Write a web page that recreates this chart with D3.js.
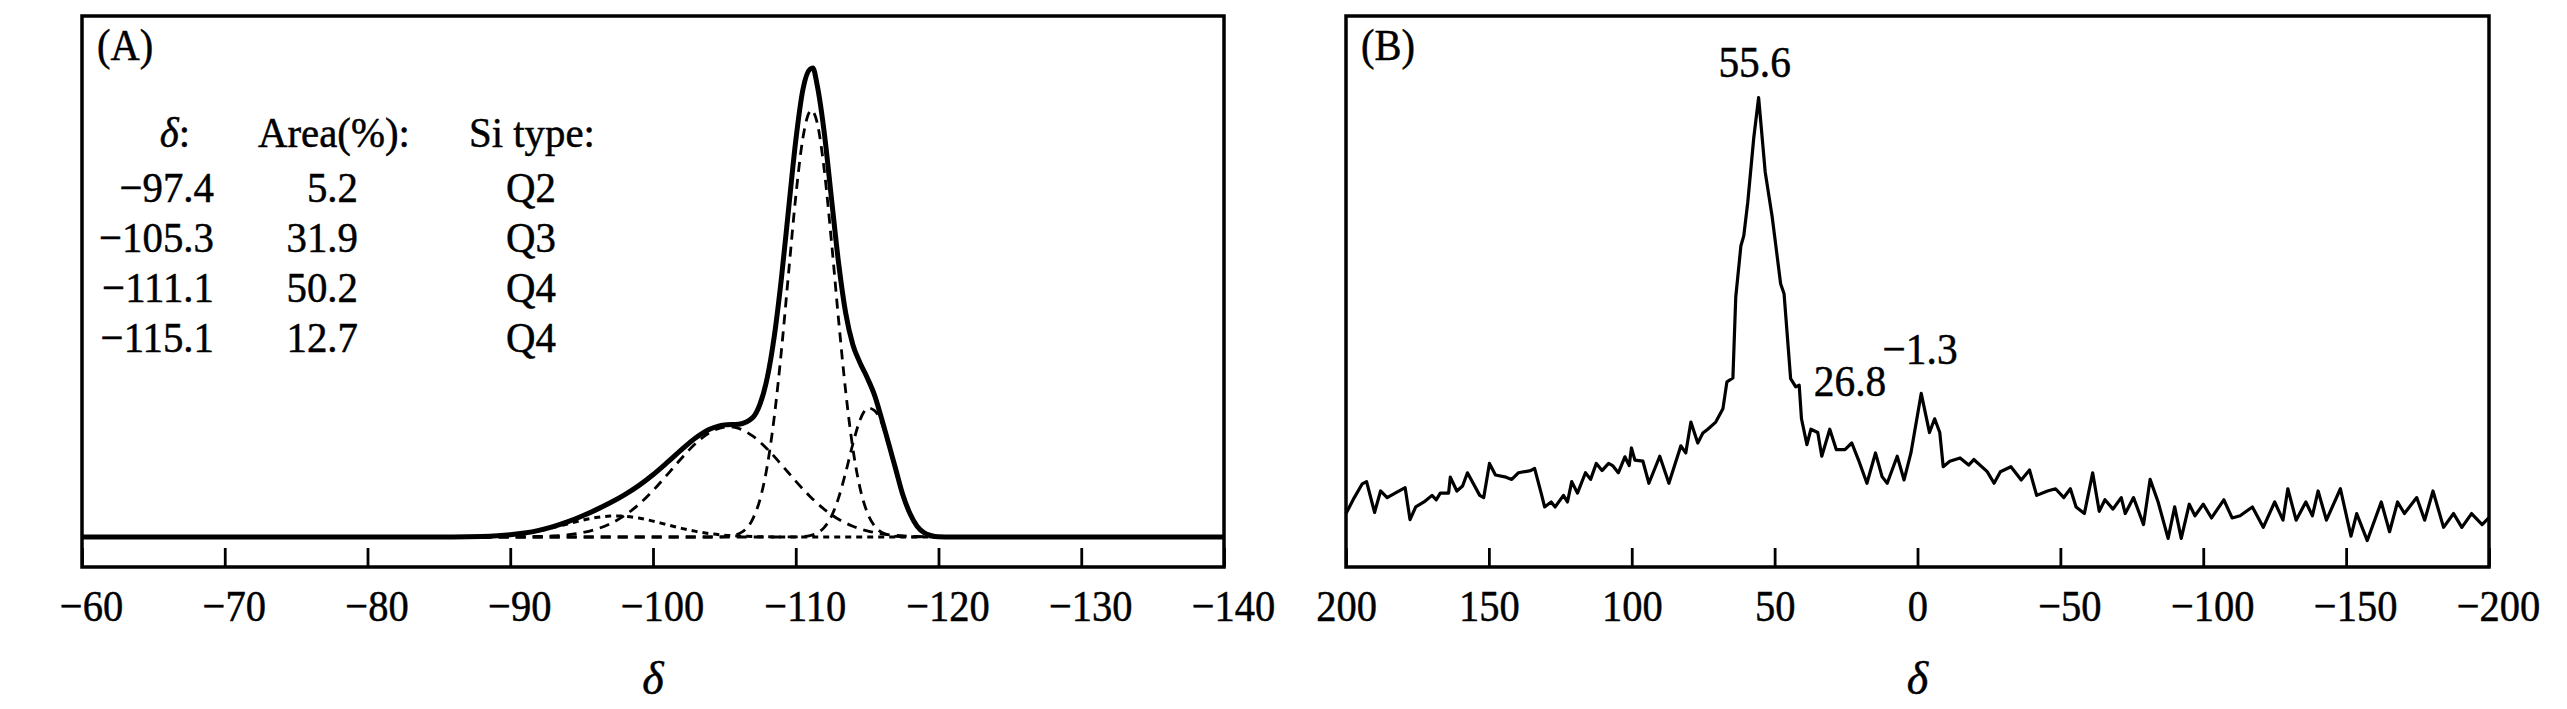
<!DOCTYPE html>
<html>
<head>
<meta charset="utf-8">
<script src="https://cdn.jsdelivr.net/npm/d3@7"></script>
<style>
  body { margin: 0; background: #fff; }
  text { font-family: 'Liberation Serif', 'Times New Roman', serif; fill: #000; stroke: #000; stroke-width: 0.5; }
</style>
</head>
<body>
<svg id="chart" width="2567" height="709"></svg>
<script>
// panel A: 29Si deconvolution, [delta, intensity]
var sumA = [[-60, 0], [-86, 0], [-88, 0.1], [-90, 0.47], [-91, 0.84], [-92, 1.41], [-93, 2.21], [-94, 3.22],
  [-95, 4.43], [-96, 5.78], [-97, 7.29], [-98, 8.99], [-99, 10.96], [-100, 13.28], [-101, 15.9], [-102, 18.64],
  [-103, 21.17], [-104, 23.03], [-105, 23.91], [-106, 24.05], [-107, 25.51], [-107.5, 28.37], [-108, 33.91],
  [-108.5, 42.9], [-109, 55.3], [-109.5, 70.0], [-110, 84.5], [-110.5, 95.4], [-111, 99.77], [-111.2, 100],
  [-111.5, 96.38], [-112, 86.13], [-112.5, 72.25], [-113, 58.46], [-113.5, 47.72], [-114, 41.0], [-114.5, 37.16],
  [-115, 34.0], [-115.5, 30.4], [-116, 25.4], [-116.5, 20.0], [-117, 14.5], [-117.5, 9], [-118, 5], [-118.5, 2.3],
  [-119, 0.9], [-119.5, 0.3], [-120, 0.05], [-121, 0], [-140, 0]];

var peakQ2 = [[-86, 0], [-88, 0.1], [-90, 0.45], [-91, 0.8], [-92, 1.31], [-93, 1.99], [-94, 2.76], [-95, 3.53],
  [-96, 4.14], [-97, 4.47], [-97.4, 4.5], [-98, 4.43], [-99, 4.04], [-100, 3.38], [-101, 2.6], [-102, 1.84],
  [-103, 1.2], [-104, 0.71], [-105, 0.39], [-106, 0.2], [-107, 0.09], [-108, 0.04], [-110, 0], [-121, 0]];

var peakQ3 = [[-88, 0], [-90, 0.02], [-91, 0.04], [-92, 0.1], [-93, 0.22], [-94, 0.46], [-95, 0.9], [-96, 1.64],
  [-97, 2.82], [-98, 4.56], [-99, 6.92], [-100, 9.9], [-101, 13.3], [-102, 16.8], [-103, 19.97], [-104, 22.31],
  [-105, 23.43], [-105.3, 23.5], [-106, 23.15], [-107, 21.5], [-108, 18.78], [-109, 15.42], [-110, 11.91],
  [-111, 8.65], [-112, 5.9], [-113, 3.79], [-114, 2.29], [-115, 1.3], [-116, 0.69], [-117, 0.35], [-118, 0.16],
  [-119, 0.07], [-120, 0.03], [-121, 0]];

var peakQ4a = [[-88, 0], [-104, 0], [-105, 0.09], [-106, 0.7], [-107, 3.92], [-107.5, 8.06], [-108, 15.09],
  [-108.5, 25.71], [-109, 39.87], [-109.5, 56.37], [-110, 72.56], [-110.5, 85.08], [-111, 90.83], [-111.1, 91],
  [-111.5, 88.35], [-112, 78.18], [-112.5, 63.07], [-113, 46.32], [-113.5, 30.99], [-114, 18.89], [-114.5, 10.48],
  [-115, 5.29], [-115.5, 2.43], [-116, 1.02], [-116.5, 0.39], [-117, 0.14], [-118, 0.01], [-121, 0]];

var peakQ4b = [[-88, 0], [-109, 0], [-110, 0.02], [-110.5, 0.09], [-111, 0.29], [-111.5, 0.83], [-112, 2.05],
  [-112.5, 4.42], [-113, 8.35], [-113.5, 13.77], [-114, 19.83], [-114.5, 24.95], [-115, 27.42], [-115.1, 27.5],
  [-115.5, 27.0], [-116, 24.5], [-116.5, 19.5], [-117, 14], [-117.5, 8.7], [-118, 4.8], [-118.5, 2.2], [-119, 0.8],
  [-119.5, 0.2], [-120, 0], [-121, 0]];

var tableHead = ['δ:', 'Area(%):', 'Si type:'];
var tableShift = ['−97.4', '−105.3', '−111.1', '−115.1'];
var tableArea = ['5.2', '31.9', '50.2', '12.7'];
var tableType = ['Q2', 'Q3', 'Q4', 'Q4'];
var ticksA = [-60, -70, -80, -90, -100, -110, -120, -130, -140];

// panel B: 27Al spectrum, [delta, intensity]
var spectrumB = [[200.0, 9.7], [197.1, 12.6], [194.3, 15.1], [192.8, 15.5], [190.0, 9.9], [187.9, 13.8],
  [185.6, 12.6], [182.8, 13.4], [179.3, 14.4], [177.6, 8.6], [175.6, 10.9], [172.7, 11.8], [169.9, 13.0],
  [168.4, 12.2], [167.0, 13.4], [164.1, 13.4], [163.5, 16.3], [161.2, 13.8], [159.2, 14.7], [157.5, 17.1],
  [153.2, 13.0], [151.8, 12.6], [149.8, 18.8], [147.7, 16.7], [144.0, 16.3], [142.0, 15.9], [139.7, 17.1],
  [135.4, 17.5], [134.0, 17.9], [131.7, 13.4], [130.5, 10.9], [128.2, 11.8], [126.8, 10.9], [123.9, 13.0],
  [122.5, 11.8], [121.0, 15.5], [119.0, 13.4], [116.2, 17.1], [114.4, 15.9], [112.4, 18.8], [110.4, 17.5],
  [108.1, 18.8], [106.7, 18.4], [104.7, 17.1], [102.4, 20.0], [100.9, 18.4], [100.1, 21.6], [98.9, 19.4],
  [96.1, 19.2], [94.0, 15.2], [90.2, 20.1], [87.0, 15.2], [82.8, 22.0], [81.1, 20.7], [79.3, 26.3], [76.9, 22.5],
  [75.1, 24.3], [73.4, 25.0], [70.6, 26.3], [68.1, 28.7], [66.7, 33.6], [64.6, 34.3], [63.6, 49.0], [61.8, 58.3],
  [60.8, 60.1], [59.4, 66.2], [57.3, 77.9], [55.6, 85.2], [53.3, 71.7], [50.9, 63.7], [49.4, 57.6], [47.9, 51.4],
  [46.7, 49.6], [44.4, 34.2], [42.6, 32.7], [41.4, 33.0], [40.6, 26.9], [38.7, 22.2], [37.3, 25.0], [34.9, 24.4],
  [33.5, 20.1], [30.7, 25.0], [28.4, 21.3], [25.4, 21.3], [23.0, 22.5], [20.7, 19.5], [17.7, 15.2], [14.7, 20.7],
  [12.4, 16.4], [10.6, 15.2], [7.1, 20.1], [4.7, 15.8], [2.3, 20.7], [-1.3, 31.5], [-4.2, 24.4], [-6.0, 26.9],
  [-7.8, 24.4], [-9.0, 18.2], [-11.3, 19.2], [-14.9, 19.8], [-17.9, 18.5], [-19.7, 19.5], [-24.4, 17.3],
  [-26.8, 15.2], [-29.0, 17.3], [-32.7, 18.2], [-36.3, 15.8], [-39.2, 17.6], [-41.7, 13.0], [-45.5, 13.8],
  [-48.3, 14.2], [-51.2, 12.6], [-53.5, 14.2], [-55.5, 10.9], [-58.4, 9.7], [-61.3, 17.1], [-63.6, 10.1],
  [-65.6, 12.2], [-68.4, 10.5], [-71.3, 12.6], [-72.7, 9.7], [-75.6, 12.6], [-79.1, 7.7], [-81.4, 15.9],
  [-84.2, 11.8], [-87.7, 5.2], [-90.0, 10.9], [-92.3, 5.2], [-95.1, 11.4], [-97.1, 9.3], [-100.0, 11.4],
  [-102.9, 8.9], [-107.2, 12.2], [-110.1, 8.9], [-112.9, 9.3], [-117.2, 10.9], [-121.0, 7.2], [-125.0, 11.8],
  [-127.9, 8.5], [-129.6, 14.2], [-132.5, 8.5], [-135.9, 11.8], [-138.2, 9.3], [-140.2, 13.8], [-143.1, 8.5],
  [-148.0, 14.2], [-151.7, 5.6], [-153.7, 9.7], [-157.4, 4.8], [-162.3, 11.8], [-165.2, 6.4], [-168.0, 11.8],
  [-170.4, 9.7], [-174.7, 12.6], [-177.5, 8.5], [-180.4, 13.8], [-184.1, 7.2], [-187.6, 9.7], [-190.5, 7.2],
  [-193.9, 9.7], [-197.6, 7.7], [-199.9, 8.9]];

var labelsB = [['55.6', 57.0, 88.9], ['26.8', 23.6, 31.0], ['−1.3', -0.9, 36.8]];
var ticksB = [200, 150, 100, 50, 0, -50, -100, -150, -200];

(function () {
  'use strict';

  var svg = d3.select('#chart');
  var top = 16, bottom = 567;
  var fontSize = 45;

  // text squeezed a little, the original face is narrow
  function label(parent, x, y, str, size, anchor, sx) {
    return parent.append('text')
    .attr('transform', 'translate(' + x + ',' + y + ') scale(' + (sx || 0.9) + ',1)')
    .attr('text-anchor', anchor || 'start')
    .attr('font-size', size)
    .text(str);
  }

  // shared frame + bottom axis
  function drawFrame(x, ticks, tag) {
    var g = svg.append('g');
    var axis = d3.axisBottom(x)
    .tickValues(ticks)
    .tickSizeInner(-19)
    .tickSizeOuter(0)
    .tickPadding(22)
    .tickFormat(d3.format('d'));

    var ax = g.append('g')
    .attr('transform', 'translate(0,' + bottom + ')')
    .call(axis);
    ax.select('.domain').remove();
    ax.selectAll('line')
    .attr('stroke', '#000')
    .attr('stroke-width', 2.8);
    ax.selectAll('text')
    .attr('font-family', "'Liberation Serif', 'Times New Roman', serif")
    .attr('font-size', fontSize)
    .attr('fill', '#000')
    .attr('transform', 'scale(0.9,1)')
    .attr('dx', function (d) { return d < 0 ? 10 : 0; });

    var r = x.range();
    g.append('rect')
    .attr('x', r[0])
    .attr('y', top)
    .attr('width', r[1] - r[0])
    .attr('height', bottom - top)
    .attr('fill', 'none')
    .attr('stroke', '#000')
    .attr('stroke-width', 3.5);

    label(g, r[0] + 15, 60, tag, 44, 'start', 0.92);

    g.append('text')
    .attr('x', (r[0] + r[1]) / 2)
    .attr('y', 694)
    .attr('text-anchor', 'middle')
    .attr('font-size', 46)
    .attr('font-style', 'italic')
    .text('δ');
  }

  // ---- panel A ----
  var xA = d3.scaleLinear().domain([-60, -140]).range([82, 1224]);
  var yA = d3.scaleLinear().domain([-6.4, 111.1]).range([bottom, top]);
  var lineA = d3.line()
  .x(function (d) { return xA(d[0]); })
  .y(function (d) { return yA(d[1]); })
  .curve(d3.curveMonotoneX);

  svg.append('path')
  .datum(sumA)
  .attr('d', lineA)
  .attr('fill', 'none')
  .attr('stroke', '#000')
  .attr('stroke-width', 5)
  .attr('stroke-linejoin', 'round');

  [peakQ3, peakQ4a, peakQ4b].forEach(function (p) {
    svg.append('path')
    .datum(p)
    .attr('d', lineA)
    .attr('fill', 'none')
    .attr('stroke', '#000')
    .attr('stroke-width', 2.8)
    .attr('stroke-dasharray', '10,7');
  });
  svg.append('path')
  .datum(peakQ2)
  .attr('d', lineA)
  .attr('fill', 'none')
  .attr('stroke', '#000')
  .attr('stroke-width', 3)
  .attr('stroke-dasharray', '6,5');

  drawFrame(xA, ticksA, '(A)');

  // table of fitted peaks
  var tbl = svg.append('g');
  var head = label(tbl, 190, 147, '', 43, 'end', 0.95);
  head.append('tspan').attr('font-style', 'italic').text(tableHead[0].charAt(0));
  head.append('tspan').text(tableHead[0].slice(1));
  label(tbl, 258, 147, tableHead[1], 43, 'start', 0.95);
  label(tbl, 469, 147, tableHead[2], 43, 'start', 0.95);

  tableShift.forEach(function (s, i) {
    var y = 202 + i * 50;
    label(tbl, 214, y, s, 43, 'end', 0.95);
    label(tbl, 358, y, tableArea[i], 43, 'end', 0.95);
    label(tbl, 531, y, tableType[i], 43, 'middle', 0.95);
  });

  // ---- panel B ----
  var xB = d3.scaleLinear().domain([200, -200]).range([1346, 2489]);
  var yB = d3.scaleLinear().domain([0, 100]).range([bottom, top]);
  var lineB = d3.line()
  .x(function (d) { return xB(d[0]); })
  .y(function (d) { return yB(d[1]); });

  svg.append('path')
  .datum(spectrumB)
  .attr('d', lineB)
  .attr('fill', 'none')
  .attr('stroke', '#000')
  .attr('stroke-width', 3.2)
  .attr('stroke-linejoin', 'round');

  drawFrame(xB, ticksB, '(B)');

  var ann = svg.append('g');
  labelsB.forEach(function (d) {
    label(ann, xB(d[1]), yB(d[2]), d[0], 45, 'middle', 0.92);
  });
})();
</script>
</body>
</html>
